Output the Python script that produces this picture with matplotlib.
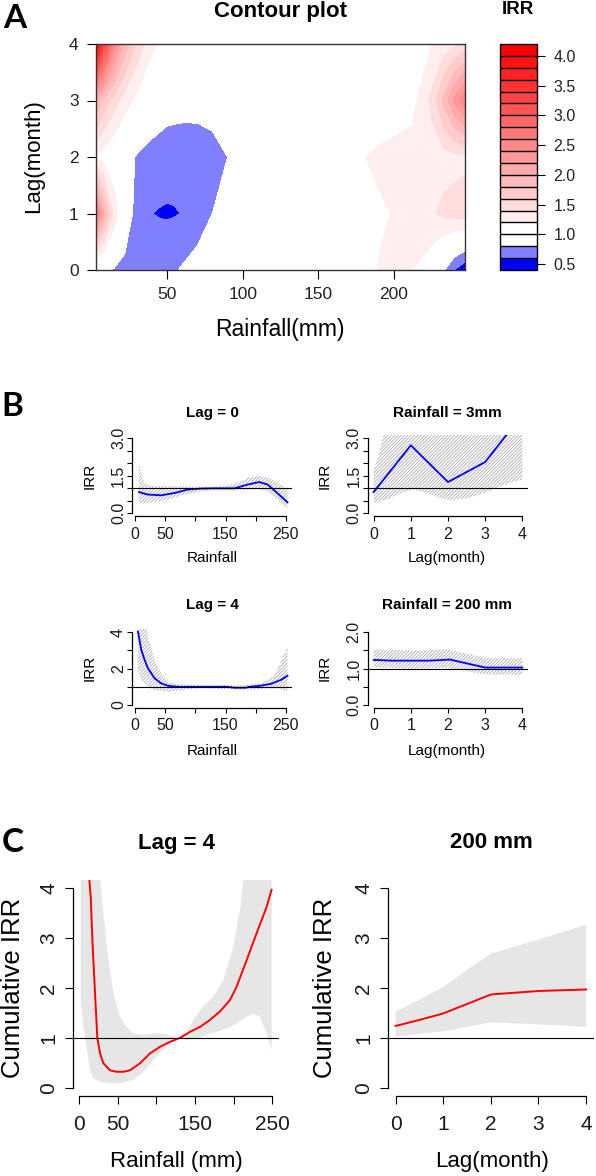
import numpy as np
import matplotlib
matplotlib.use("Agg")
import matplotlib.pyplot as plt

W, H, DPI = 596, 1176, 100
plt.rcParams['font.family'] = ['Liberation Sans', 'DejaVu Sans']
plt.rcParams['hatch.linewidth'] = 0.55
plt.rcParams['axes.linewidth'] = 0.9

# ---------------- Panel A: contour surface (IRR by rainfall x lag) ----------------
rain_grid = [3, 8, 15, 22, 30, 40, 45, 50, 55, 60, 70, 80, 90, 100, 125, 150, 175, 190, 200, 212, 225, 233, 240, 247]
lag_grid = [0, 1, 2, 3, 4]
irr_lag0 = [0.86, 0.84, 0.78, 0.74, 0.72, 0.72, 0.73, 0.74, 0.78, 0.82, 0.86, 0.90, 0.94, 0.96, 0.98, 0.99, 1.05, 1.21, 1.27, 1.20, 1.05, 0.82, 0.60, 0.45]
irr_lag1 = [2.70, 2.00, 1.35, 0.95, 0.72, 0.602, 0.588, 0.582, 0.588, 0.605, 0.72, 0.80, 0.90, 0.96, 1.00, 1.04, 1.10, 1.17, 1.21, 1.30, 1.38, 1.44, 1.47, 1.50]
irr_lag2 = [1.19, 1.10, 1.00, 0.90, 0.78, 0.72, 0.70, 0.68, 0.675, 0.67, 0.68, 0.72, 0.80, 0.86, 0.95, 1.05, 1.17, 1.24, 1.28, 1.30, 1.31, 1.33, 1.34, 1.35]
irr_lag3 = [2.00, 1.75, 1.50, 1.30, 1.14, 0.97, 0.93, 0.90, 0.89, 0.885, 0.88, 0.895, 0.92, 0.94, 0.98, 1.00, 1.02, 1.03, 1.05, 1.12, 1.45, 1.85, 2.25, 2.55]
irr_lag4 = [4.15, 3.35, 2.50, 1.95, 1.55, 1.25, 1.17, 1.10, 1.07, 1.04, 1.00, 1.00, 1.00, 1.00, 1.00, 1.00, 0.96, 0.98, 1.03, 1.10, 1.20, 1.28, 1.36, 1.45]
irr_levels = [0.4, 0.6, 0.8, 1.0, 1.2, 1.4, 1.6, 1.8, 2.0, 2.2, 2.4, 2.6, 2.8, 3.0, 3.2, 3.4, 3.6, 3.8, 4.0, 4.2]
key_ticks = [0.5, 1.0, 1.5, 2.0, 2.5, 3.0, 3.5, 4.0]

# ---------------- Panel B ----------------
# Lag = 0 (IRR vs rainfall)
b1_x = [6, 21, 43, 65, 87, 109, 131, 165, 187, 206, 220, 236, 253]
b1_y = [0.85, 0.75, 0.72, 0.81, 0.95, 0.99, 1.00, 1.00, 1.15, 1.25, 1.15, 0.81, 0.44]
b1_up_x = [6, 10, 15, 26, 54, 81, 109, 137, 164, 187, 206, 225, 242, 253]
b1_up = [2.01, 1.61, 1.21, 1.11, 1.08, 1.08, 1.05, 1.08, 1.15, 1.41, 1.52, 1.37, 1.15, 0.95]
b1_lo_x = [6, 15, 26, 54, 81, 109, 137, 164, 187, 206, 220, 236, 253]
b1_lo = [0.41, 0.39, 0.44, 0.55, 0.75, 0.88, 0.92, 0.91, 0.95, 0.97, 0.88, 0.55, 0.19]

# Rainfall = 3mm (IRR vs lag)
b2_x = [0, 1, 2, 3, 4]
b2_y = [0.85, 2.72, 1.25, 2.05, 3.94]
b2_up_x = [0, 0.13, 0.22, 0.35, 1, 2, 3, 4]
b2_up = [1.75, 2.30, 2.85, 3.60, 7.0, 4.5, 5.5, 9.0]
b2_lo_x = [0, 0.36, 0.72, 1.08, 1.44, 1.8, 2.07, 2.52, 2.97, 3.42, 3.78, 4]
b2_lo = [0.41, 0.55, 0.81, 0.95, 0.81, 0.61, 0.52, 0.61, 0.81, 1.08, 1.28, 1.35]

# Lag = 4 (IRR vs rainfall)
b3_x = [4.4, 10, 15.5, 21, 32, 43, 54, 71, 109, 153, 164, 184, 189, 208, 225, 242, 253]
b3_y = [4.04, 3.03, 2.48, 2.02, 1.47, 1.19, 1.06, 1.00, 1.00, 1.00, 0.95, 0.95, 1.00, 1.06, 1.16, 1.38, 1.61]
b3_up_x = [4.4, 12, 19, 21, 32, 43, 54, 71, 109, 153, 186, 208, 230, 244, 253]
b3_up = [9.0, 6.0, 4.2, 3.76, 2.48, 1.74, 1.28, 1.16, 1.10, 1.10, 1.10, 1.19, 1.56, 2.48, 3.20]
b3_lo_x = [4.4, 10, 21, 32, 54, 82, 109, 164, 197, 219, 236, 253]
b3_lo = [1.93, 1.38, 1.00, 0.83, 0.73, 0.83, 0.92, 0.86, 0.83, 0.92, 0.92, 0.73]

# Rainfall = 200 mm (IRR vs lag)
b4_x = [0, 0.5, 1.5, 2.05, 3, 4]
b4_y = [1.24, 1.22, 1.22, 1.25, 1.03, 1.03]
b4_band_x = [0, 1, 2, 3, 4]
b4_up = [1.53, 1.50, 1.53, 1.30, 1.28]
b4_lo = [1.04, 1.00, 1.02, 0.84, 0.83]

# ---------------- Panel C ----------------
c1_x = [11, 13.4, 15.1, 17.7, 20.7, 23.7, 27.2, 31.5, 40, 48.7, 57.3, 66, 78.9, 91.8, 104.7, 117.7,
        130.6, 143.5, 156.5, 169.4, 182.3, 195.3, 203.9, 216.8, 229.7, 242.7, 249]
c1_y = [5.5, 4.17, 3.83, 2.83, 1.89, 0.99, 0.69, 0.49, 0.35, 0.32, 0.32, 0.35, 0.49, 0.69, 0.82, 0.92,
        1.00, 1.12, 1.22, 1.36, 1.53, 1.76, 2.03, 2.56, 3.10, 3.63, 3.97]
c1_up_x = [2.2, 15, 27.2, 35.8, 44.4, 53, 61.6, 70.3, 83.2, 96.1, 109, 122, 130.6, 139.2, 147.8,
           160.8, 173.7, 186.6, 199.6, 208.2, 212.5, 225, 249]
c1_up = [20, 12, 4.2, 2.83, 1.89, 1.42, 1.22, 1.09, 1.06, 1.09, 1.09, 1.03, 1.00, 1.09, 1.36,
         1.63, 1.83, 2.16, 2.83, 3.57, 4.17, 5.5, 8.0]
c1_lo_x = [2.2, 5.6, 9.9, 14.2, 18.5, 27.2, 40, 53, 70.3, 83.2, 96.1, 109, 122, 130.6, 139.2, 152.2,
           165.1, 178, 191, 203.9, 216.8, 225.4, 234, 242.7, 249.1]
c1_lo = [1.76, 1.22, 0.82, 0.35, 0.19, 0.12, 0.09, 0.09, 0.15, 0.32, 0.56, 0.76, 0.92, 0.99, 0.96, 0.99,
         1.06, 1.12, 1.19, 1.29, 1.42, 1.49, 1.42, 1.09, 0.76]

c2_x = [0, 0.5, 1, 1.5, 2, 3, 4]
c2_y = [1.24, 1.36, 1.49, 1.68, 1.87, 1.94, 1.97]
c2_up = [1.53, 1.77, 2.02, 2.37, 2.69, 2.97, 3.27]
c2_lo = [1.03, 1.08, 1.13, 1.22, 1.31, 1.27, 1.22]

# ---------------- drawing helpers ----------------
fig = plt.figure(figsize=(W / DPI, H / DPI), dpi=DPI)
fig.patch.set_facecolor('white')


def px_axes(l, t, r, b):
    return fig.add_axes([l / W, 1 - b / H, (r - l) / W, (b - t) / H])


def ftext(x, y, s, **kw):
    kw.setdefault('ha', 'center')
    kw.setdefault('va', 'center')
    fig.text(x / W, 1 - y / H, s, **kw)


def r_axes(ax, xt, xl, yt, yl, tick_len, lab_size, xpad, ypad):
    for s in ('top', 'right'):
        ax.spines[s].set_visible(False)
    ax.spines['left'].set_bounds(min(yt), max(yt))
    ax.spines['bottom'].set_bounds(min(xt), max(xt))
    ax.set_xticks(xt)
    ax.set_xticklabels(xl)
    ax.set_yticks(yt)
    ax.set_yticklabels(yl, rotation=90, va='center')
    ax.tick_params(direction='out', length=tick_len, width=0.8, labelsize=lab_size, labelcolor='#1a1a1a')
    ax.tick_params(axis='x', pad=xpad)
    ax.tick_params(axis='y', pad=ypad)
    ax.set_facecolor('none')


def poly_band(ax, xu, yu, xl, yl, **kw):
    xs = list(xu) + list(xl)[::-1]
    ys = list(yu) + list(yl)[::-1]
    ax.fill(xs, ys, **kw)


# ---------------- Panel A ----------------
blue_part = ['#0000FF', '#8080FF', '#FFFFFF']
n_red = 16
red_part = []
for i in range(n_red):
    g = 1 - i / (n_red - 1)
    red_part.append((1.0, g, g))
level_colors = blue_part + red_part

axA = px_axes(96, 44, 465, 270)
Z = np.array([irr_lag0, irr_lag1, irr_lag2, irr_lag3, irr_lag4])
cs = axA.contourf(rain_grid, lag_grid, Z, levels=irr_levels, colors=level_colors)
axA.set_xlim(min(rain_grid), max(rain_grid))
axA.set_ylim(min(lag_grid), max(lag_grid))
axA.set_xticks([50, 100, 150, 200])
axA.set_yticks([0, 1, 2, 3, 4])
axA.tick_params(direction='out', length=6.5, width=0.8, labelsize=12.5, pad=6, labelcolor='#222222')
for s in axA.spines.values():
    s.set_color('#333333')
    s.set_linewidth(1.0)

ftext(280, 12, 'Contour plot', fontsize=16, fontweight='bold')
ftext(280, 330, 'Rainfall(mm)', fontsize=16.5)
ftext(34, 156, 'Lag(month)', fontsize=16, rotation=90)

cax = px_axes(500, 44, 537, 270)
cb = fig.colorbar(cs, cax=cax, ticks=key_ticks, drawedges=True)
cb.ax.set_yticklabels(['%.1f' % t for t in key_ticks])
cb.ax.tick_params(direction='out', length=5.8, width=0.8, labelsize=11.5, pad=6, labelcolor='#222222')
cb.outline.set_edgecolor('black')
cb.outline.set_linewidth(1.0)
cb.dividers.set_color('black')
cb.dividers.set_linewidth(1.0)
ftext(518, 9, 'IRR', fontsize=13.5, fontweight='bold')

# ---------------- Panel B ----------------
HATCH = '//////////'
HCOL = '#a6a6a6'
BLUE_LW = 1.3

b1 = px_axes(132.3, 435.3, 292.3, 516.3)
poly_band(b1, b1_up_x, b1_up, b1_lo_x, b1_lo, facecolor='none', edgecolor=HCOL, hatch=HATCH, linewidth=0)
b1.plot(b1_x, b1_y, color='blue', lw=BLUE_LW)
b1.axhline(1, color='black', lw=0.8)
b1.set_xlim(-5, 261)
b1.set_ylim(-0.12, 3.12)
r_axes(b1, [0, 50, 100, 150, 200, 250], ['0', '50', '', '150', '', '250'],
       [0, 0.5, 1, 1.5, 2, 2.5, 3], ['0.0', '', '', '1.5', '', '', '3.0'], 3.5, 11.5, 4, 1)

b2 = px_axes(367.7, 435.3, 528.3, 516.3)
poly_band(b2, b2_up_x, b2_up, b2_lo_x, b2_lo, facecolor='none', edgecolor=HCOL, hatch=HATCH, linewidth=0)
b2.plot(b2_x, b2_y, color='blue', lw=BLUE_LW)
b2.axhline(1, color='black', lw=0.8)
b2.set_xlim(-0.16, 4.16)
b2.set_ylim(-0.12, 3.12)
r_axes(b2, [0, 1, 2, 3, 4], ['0', '1', '2', '3', '4'],
       [0, 0.5, 1, 1.5, 2, 2.5, 3], ['0.0', '', '', '1.5', '', '', '3.0'], 3.5, 11.5, 4, 1)

b3 = px_axes(132.3, 629.4, 292.3, 707.9)
poly_band(b3, b3_up_x, b3_up, b3_lo_x, b3_lo, facecolor='none', edgecolor=HCOL, hatch=HATCH, linewidth=0)
b3.plot(b3_x, b3_y, color='blue', lw=BLUE_LW)
b3.axhline(1, color='black', lw=0.8)
b3.set_xlim(-5, 261)
b3.set_ylim(-0.16, 4.16)
r_axes(b3, [0, 50, 100, 150, 200, 250], ['0', '50', '', '150', '', '250'],
       [0, 1, 2, 3, 4], ['0', '', '2', '', '4'], 3.5, 11.5, 4, 1)

b4 = px_axes(367.7, 629.4, 528.3, 707.9)
poly_band(b4, b4_band_x, b4_up, b4_band_x, b4_lo, facecolor='none', edgecolor=HCOL, hatch=HATCH, linewidth=0)
b4.plot(b4_x, b4_y, color='blue', lw=BLUE_LW)
b4.axhline(1, color='black', lw=0.8)
b4.set_xlim(-0.16, 4.16)
b4.set_ylim(-0.08, 2.08)
r_axes(b4, [0, 1, 2, 3, 4], ['0', '1', '2', '3', '4'],
       [0, 0.5, 1, 1.5, 2], ['0.0', '', '1.0', '', '2.0'], 3.5, 11.5, 4, 1)

for (x, y, s) in [(212, 413, 'Lag = 0'), (447, 413, 'Rainfall = 3mm'),
                  (212, 605, 'Lag = 4'), (447, 605, 'Rainfall = 200 mm')]:
    ftext(x, y, s, fontsize=11, fontweight='bold')
for (x, y, s) in [(212, 558, 'Rainfall'), (447, 558, 'Lag(month)'),
                  (212, 751, 'Rainfall'), (447, 751, 'Lag(month)')]:
    ftext(x, y, s, fontsize=11)
for (x, y) in [(90, 476), (325, 476), (90, 668), (325, 668)]:
    ftext(x, y, 'IRR', fontsize=11, rotation=90)

# ---------------- Panel C ----------------
GREY = '#e6e6e6'
c1 = px_axes(73.3, 880.3, 279.3, 1095.7)
poly_band(c1, c1_up_x, c1_up, c1_lo_x, c1_lo, facecolor=GREY, edgecolor='none', linewidth=0)
c1.plot(c1_x, c1_y, color='red', lw=1.4)
c1.axhline(1, color='black', lw=0.8)
c1.set_xlim(-7.4, 259)
c1.set_ylim(-0.16, 4.16)
r_axes(c1, [0, 50, 100, 150, 200, 250], ['0', '50', '', '150', '', '250'],
       [0, 1, 2, 3, 4], ['0', '1', '2', '3', '4'], 5.8, 15, 8, 5)

c2 = px_axes(388.1, 880.3, 593.7, 1095.7)
poly_band(c2, c2_x, c2_up, c2_x, c2_lo, facecolor=GREY, edgecolor='none', linewidth=0)
c2.plot(c2_x, c2_y, color='red', lw=1.4)
c2.axhline(1, color='black', lw=0.8)
c2.set_xlim(-0.16, 4.16)
c2.set_ylim(-0.16, 4.16)
r_axes(c2, [0, 1, 2, 3, 4], ['0', '1', '2', '3', '4'],
       [0, 1, 2, 3, 4], ['0', '1', '2', '3', '4'], 5.8, 15, 8, 5)

ftext(176.7, 843, 'Lag = 4', fontsize=16, fontweight='bold')
ftext(491.7, 843, '200 mm', fontsize=16, fontweight='bold')
ftext(176.7, 1162, 'Rainfall (mm)', fontsize=16)
ftext(491.7, 1162, 'Lag(month)', fontsize=16)
ftext(13, 988, 'Cumulative IRR', fontsize=18.5, rotation=90)
ftext(325, 988, 'Cumulative IRR', fontsize=18.5, rotation=90)

# panel letters
for (x, y, s) in [(15, 18, 'A'), (12, 406, 'B'), (13, 842, 'C')]:
    ftext(x, y, s, fontsize=24, fontweight='bold', family=['Lato', 'DejaVu Sans'])

fig.savefig('out.png', dpi=DPI)
